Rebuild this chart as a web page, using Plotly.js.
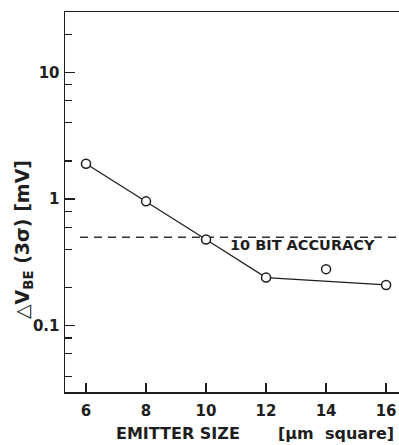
<!DOCTYPE html>
<html><head><meta charset="utf-8">
<script src="https://cdn.plot.ly/plotly-3.0.1.min.js"></script>
<style>body{margin:0;padding:0;background:#fff}#c{width:399px;height:445px}</style>
</head><body><div id="c"></div>
<script>
// Emitter size (µm square) and ΔVBE (3σ) in mV
const lineSizes = [6, 8, 10, 12, 16];
const lineDvbe  = [1.9, 0.96, 0.48, 0.24, 0.21];
const loneSizes = [14];
const loneDvbe  = [0.28];
const accuracyLevel = 0.5;
const accuracyLabel = "10 BIT ACCURACY";
const xTicks = [6, 8, 10, 12, 14, 16];
const xTickText = ["6", "8", "10", "12", "14", "16"];
const yTicks = [0.1, 1, 10];
const yTickText = ["0.1", "1", "10"];
const yMinorTicks = [0.04, 0.06, 0.08, 0.2, 0.4, 0.6, 0.8, 2, 4, 6, 8, 20];

const ink = "#1e1e1e";
const fam = "DejaVu Sans, Liberation Sans, Arial, sans-serif";
const tickFont = {family: fam, size: 15, color: ink};
const bold = s => "<b>" + s + "</b>";

const traces = [
  {x: lineSizes, y: lineDvbe, type: "scatter", mode: "lines+markers",
   line: {color: ink, width: 1.3},
   marker: {symbol: "circle", size: 9, color: "#fff", line: {color: ink, width: 1.5}},
   showlegend: false},
  {x: loneSizes, y: loneDvbe, type: "scatter", mode: "markers",
   marker: {symbol: "circle", size: 9, color: "#fff", line: {color: ink, width: 1.5}},
   showlegend: false}
];

const layout = {
  width: 399, height: 445,
  margin: {l: 65, r: 0, t: 12, b: 53},
  paper_bgcolor: "#fff", plot_bgcolor: "#fff",
  showlegend: false,
  xaxis: {
    range: [5.3, 16.43], tickvals: xTicks, ticktext: xTickText.map(bold), ticks: "inside", ticklen: 9, tickwidth: 1.3,
    tickcolor: ink, showline: true, linecolor: ink, linewidth: 1.5, mirror: true,
    showgrid: false, zeroline: false, tickfont: tickFont, ticklabelstandoff: 4
  },
  yaxis: {
    type: "log", range: [Math.log10(0.03), Math.log10(30)],
    tickvals: yTicks, ticktext: yTickText.map(bold), ticks: "inside", ticklen: 10, tickwidth: 1.3,
    tickcolor: ink, showline: true, linecolor: ink, linewidth: 1.5,
    showgrid: false, zeroline: false, tickfont: tickFont, ticklabelstandoff: 1,
    minor: {tickvals: yMinorTicks, ticks: "inside", ticklen: 7, tickwidth: 1.2, tickcolor: ink, showgrid: false}
  },
  shapes: [
    {type: "line", xref: "x", yref: "y", x0: 5.8, x1: 16.43, y0: accuracyLevel, y1: accuracyLevel,
     line: {color: "#333", width: 1.4, dash: "8px,6px"}, layer: "below"}
  ],
  annotations: [
    {xref: "x", yref: "y", x: 13.2, y: Math.log10(0.435), text: bold(accuracyLabel), showarrow: false,
     xanchor: "center", yanchor: "middle", font: {family: fam, size: 14.5, color: ink}},
    {xref: "paper", yref: "paper", x: (178 - 65) / 334, y: (392 - 434) / 380, text: bold("EMITTER SIZE"),
     xanchor: "center", yanchor: "middle", showarrow: false, borderpad: 0, font: {family: fam, size: 16, color: ink}},
    {xref: "paper", yref: "paper", x: (336 - 65) / 334, y: (392 - 434) / 380, text: bold("[µm &nbsp;square]"),
     xanchor: "center", yanchor: "middle", showarrow: false, borderpad: 0, font: {family: fam, size: 16, color: ink}},
    {xref: "paper", yref: "paper", x: (23 - 65) / 334, y: 0.4, textangle: -90, xanchor: "center", yanchor: "middle",
     text: bold("△V<sub>BE</sub> (3σ) [mV]"), showarrow: false,
     font: {family: fam, size: 19, color: ink}}
  ]
};

Plotly.newPlot("c", traces, layout, {staticPlot: true, displayModeBar: false});
</script></body></html>
